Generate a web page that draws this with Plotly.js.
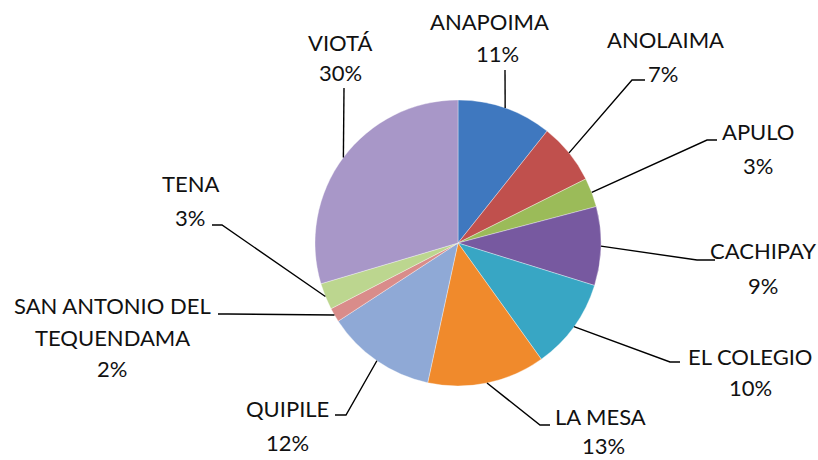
<!DOCTYPE html>
<html>
<head>
<meta charset="utf-8">
<script src="https://cdn.plot.ly/plotly-3.0.1.min.js"></script>
<style>html,body{margin:0;padding:0;background:#fff;}#chart{width:818px;height:460px;}</style>
</head>
<body>
<div id="chart"></div>
<script>
// ---- data ----
const categories = ["ANAPOIMA", "ANOLAIMA", "APULO", "CACHIPAY", "EL COLEGIO", "LA MESA", "QUIPILE", "SAN ANTONIO DEL TEQUENDAMA", "TENA", "VIOTÁ"];
const values = [10.7, 6.9, 3.3, 8.9, 10.3, 13.3, 12.4, 1.6, 3.0, 29.6];
const colors = ["#3F78BF", "#C0504D", "#9BBB59", "#7759A0", "#38A6C4", "#F08A2C", "#8FA9D6", "#D98C8A", "#BCD68F", "#A897C8"];

// ---- layout (pixels) ----
const W = 818, H = 460;
const CX = 458, CY = 243, R = 143;
// label line breaks
const nameLines = [["ANAPOIMA"], ["ANOLAIMA"], ["APULO"], ["CACHIPAY"], ["EL COLEGIO"], ["LA MESA"], ["QUIPILE"], ["SAN ANTONIO DEL", "TEQUENDAMA"], ["TENA"], ["VIOTÁ"]];
// text positions: [x, y of first line] and percent position
const namePos = [[489, 22], [665, 40], [758, 131], [763, 251], [750, 356], [600, 416], [287, 408], [112, 305], [190, 183], [340, 42]];
const pctPos  = [[497, 54], [663, 74], [758, 165], [763, 285], [750, 387], [603, 445], [287, 442], [112, 368], [190, 217], [340, 73]];
const lineSpacing = 32;
// leader line waypoints after the anchor on the pie edge
const leaderPts = [
  [[505, 70]],
  [[632, 80], [645, 80]],
  [[707, 140], [717, 140]],
  [[697, 260], [715, 260]],
  [[670, 362], [680, 362]],
  [[540, 425], [550, 425]],
  [[346, 415], [335, 415]],
  [[228, 314], [218, 314]],
  [[222, 225], [212, 225]],
  [[344, 88]]
];

const px = x => x / W;
const py = y => 1 - y / H;

const total = values.reduce((a, b) => a + b, 0);
const FONT = {family: "Lato, 'Open Sans', sans-serif", size: 22, color: "#111"};

const annotations = [];
const shapes = [];
let cum = 0;
values.forEach((v, i) => {
  const mid = (cum + v / 2) / total * 2 * Math.PI;
  cum += v;
  const ax = CX + R * Math.sin(mid);
  const ay = CY - R * Math.cos(mid);
  let d = "M" + px(ax) + "," + py(ay);
  leaderPts[i].forEach(p => { d += " L" + px(p[0]) + "," + py(p[1]); });
  shapes.push({type: "path", xref: "paper", yref: "paper", path: d, line: {color: "#000", width: 1.4}});
  nameLines[i].forEach((t, k) => {
    annotations.push({xref: "paper", yref: "paper", x: px(namePos[i][0]), y: py(namePos[i][1] + k * lineSpacing),
      xanchor: "center", yanchor: "middle", showarrow: false, borderpad: 0, text: t, font: FONT});
  });
  annotations.push({xref: "paper", yref: "paper", x: px(pctPos[i][0]), y: py(pctPos[i][1]),
    xanchor: "center", yanchor: "middle", showarrow: false, borderpad: 0,
    text: Math.round(v / total * 100) + "%", font: FONT});
});

const trace = {
  type: "pie",
  labels: categories,
  values: values,
  sort: false,
  direction: "clockwise",
  rotation: 0,
  textinfo: "none",
  hoverinfo: "label+percent",
  marker: {colors: colors, line: {color: "rgba(255,255,255,0.35)", width: 1}},
  domain: {x: [px(CX - R), px(CX + R)], y: [py(CY + R), py(CY - R)]},
  showlegend: false
};

const layout = {
  width: W, height: H,
  margin: {l: 0, r: 0, t: 0, b: 0},
  paper_bgcolor: "#fff",
  showlegend: false,
  annotations: annotations,
  shapes: shapes
};

Plotly.newPlot("chart", [trace], layout, {staticPlot: true, displayModeBar: false});
</script>
</body>
</html>
